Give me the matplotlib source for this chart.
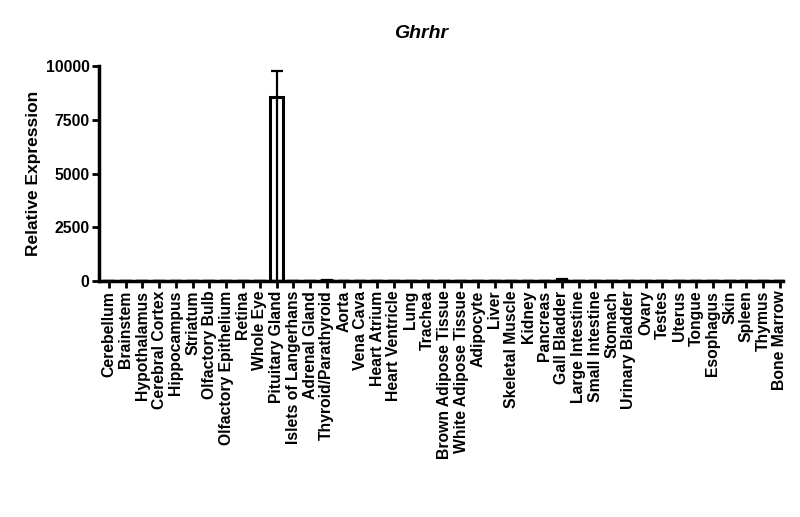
import numpy as np
import matplotlib
matplotlib.use("Agg")
from matplotlib import pyplot as plt

tissues = [
    "Cerebellum", "Brainstem", "Hypothalamus", "Cerebral Cortex", "Hippocampus",
    "Striatum", "Olfactory Bulb", "Olfactory Epithelium", "Retina", "Whole Eye",
    "Pituitary Gland", "Islets of Langerhans", "Adrenal Gland", "Thyroid/Parathyroid",
    "Aorta", "Vena Cava", "Heart Atrium", "Heart Ventricle", "Lung", "Trachea",
    "Brown Adipose Tissue", "White Adipose Tissue", "Adipocyte", "Liver",
    "Skeletal Muscle", "Kidney", "Pancreas", "Gall Bladder", "Large Intestine",
    "Small Intestine", "Stomach", "Urinary Bladder", "Ovary", "Testes", "Uterus",
    "Tongue", "Esophagus", "Skin", "Spleen", "Thymus", "Bone Marrow",
]
expression = [
    2, 1, 3, 1, 1, 1, 1, 2, 1, 2,
    8580, 3, 2, 40, 2, 1, 1, 1, 2, 3,
    2, 3, 1, 1, 1, 2, 1, 35, 2, 2,
    2, 3, 2, 1, 2, 1, 2, 2, 1, 1, 1,
]
sem = [
    0, 0, 0, 0, 0, 0, 0, 0, 0, 0,
    1200, 0, 0, 15, 0, 0, 0, 0, 0, 0,
    0, 0, 0, 0, 0, 0, 0, 40, 0, 0,
    0, 0, 0, 0, 0, 0, 0, 0, 0, 0, 0,
]

plt.rcParams['font.family'] = ['Liberation Sans', 'DejaVu Sans']
plt.rcParams['font.weight'] = 'bold'

fig = plt.figure(figsize=(8, 5.17), dpi=100)
ax = fig.add_axes([0.124, 0.4565, 0.855, 0.4158])

x = np.arange(len(tissues))
vals = np.array(expression)
errs = np.array(sem)

colors = ['black' if v > 100 else '#bbbbbb' for v in vals]
ax.bar(x, vals, width=0.75, color='white', edgecolor=colors, linewidth=2.2, zorder=2)
# error bars (line continues down through the bar as in the original)
ax.errorbar(x, vals, yerr=[vals * (errs > 0), errs], fmt='none', ecolor='black',
            elinewidth=1.6, capsize=4, capthick=1.6, zorder=3)

ax.set_xlim(-0.57, 40.2)
ax.set_ylim(0, 10000)
ax.set_yticks([0, 2500, 5000, 7500, 10000])
ax.set_xticks(x)
ax.set_xticklabels(tissues, rotation=90, fontsize=11.3, fontweight='bold')
ax.tick_params(axis='y', labelsize=11.3, width=2, length=5, direction='out', pad=2)
ax.tick_params(axis='x', width=2, length=5, direction='out', pad=2)
for t in ax.get_yticklabels():
    t.set_fontweight('bold')

for s in ['top', 'right']:
    ax.spines[s].set_visible(False)
for s in ['left', 'bottom']:
    ax.spines[s].set_linewidth(2.5)

ax.set_ylabel("Relative Expression", fontsize=12.5, fontweight='bold', labelpad=3)
fig.text(0.526, 0.936, "Ghrhr", fontsize=14, fontweight='bold', style='italic',
         ha='center', va='center')

fig.savefig("out.png", dpi=100)
